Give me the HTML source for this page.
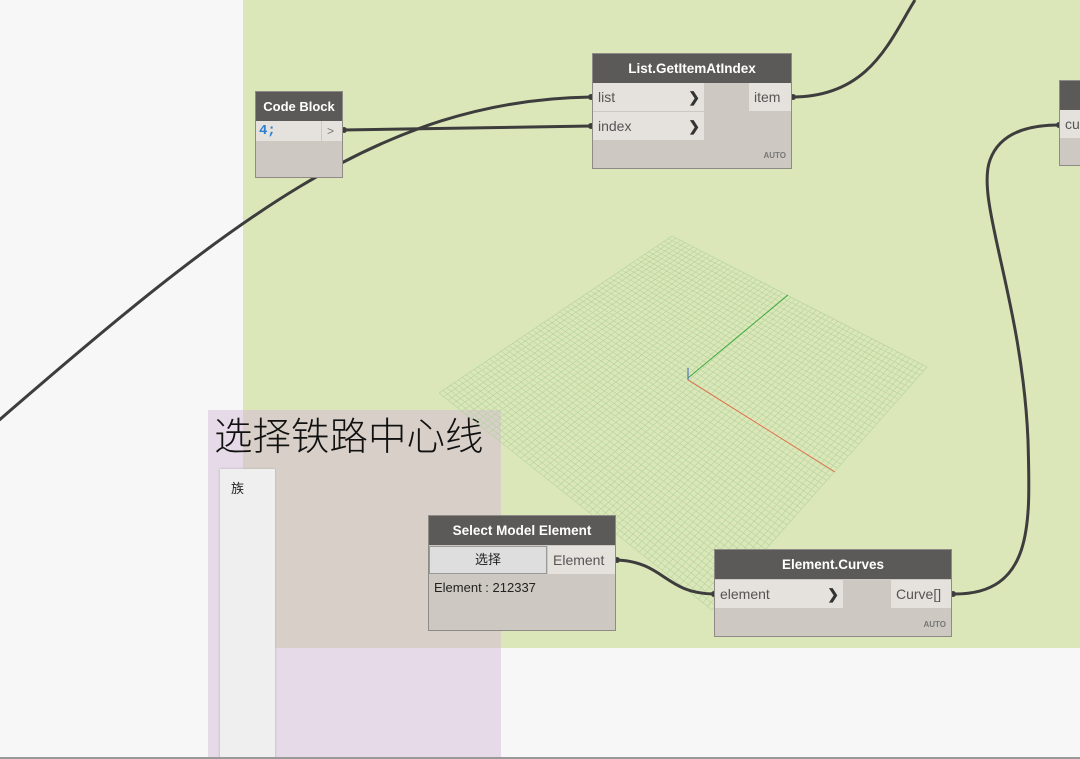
<!DOCTYPE html>
<html><head><meta charset="utf-8"><style>
*{margin:0;padding:0;box-sizing:border-box}
body{width:1080px;height:759px;overflow:hidden;background:#f7f7f7;position:relative;font-family:"Liberation Sans","Noto Sans CJK SC",sans-serif}
.abs{position:absolute}
.node{position:absolute;background:#cdc8c1;border:1px solid #8e8a85}
.hd{background:#5c5a58;color:#fff;font-weight:bold;font-size:13.5px;text-align:center;height:29px;line-height:29px;white-space:nowrap}
.in{position:absolute;background:#e5e1dc;color:#555;font-size:14px;line-height:28px;padding-left:5px}
.auto{position:absolute;right:5px;font-size:8px;font-weight:bold;color:#777}
.chev{position:absolute;right:4px;top:0;font-weight:bold;color:#333}
</style></head><body>
<div class="abs" style="left:243px;top:0;width:837px;height:648px;background:#dce7b9"></div>
<div class="abs" style="left:208px;top:410px;width:293px;height:349px;background:#e6d9e8"></div>
<div class="abs" style="left:243px;top:410px;width:258px;height:238px;background:#d8d0c8"></div>
<div class="abs" style="left:214px;top:406px;font-size:38.5px;color:#111;font-family:'Noto Sans CJK SC',sans-serif;font-weight:300">选择铁路中心线</div>
<div class="abs" style="left:220px;top:469px;width:55px;height:290px;background:#efefef;box-shadow:0 0 2px #aaa"></div>
<div class="abs" style="left:231px;top:478px;font-size:13px;color:#222">族</div>
<svg class="abs" style="left:0;top:0" width="1080" height="759" id="g">
<g id="grid" stroke="#b2d39c" stroke-width="0.6" fill="none"></g>
<line x1="688" y1="378" x2="788" y2="295" stroke="#3caa3c" stroke-width="1"/>
<line x1="688" y1="380" x2="835" y2="472" stroke="#e0704a" stroke-width="1"/>
<line x1="688" y1="368" x2="688" y2="380" stroke="#4060c0" stroke-width="1"/>
<g stroke="#3d3d3d" stroke-width="3" fill="none">
<path d="M-10,428 C 230,220 380,100 591,97"/>
<path d="M343,130 L591,126"/>
<path d="M792,97 C 870,97 890,40 915,0"/>
<path d="M617,560 C 665,562 665,594 715,594"/>
<path d="M955,594 C 1035,594 1030,520 1028,440 C 1022,300 975,200 990,160 C 1000,132 1030,125 1059,125"/>
</g>
<g fill="#3d3d3d">
<circle cx="344" cy="130" r="3"/><circle cx="591" cy="97" r="3"/><circle cx="591" cy="126" r="3"/>
<circle cx="793" cy="97" r="3"/><circle cx="617" cy="560" r="3"/><circle cx="714" cy="594" r="3"/>
<circle cx="953" cy="594" r="3"/><circle cx="1059" cy="125" r="3"/>
</g>
</svg>
<script>
(function(){var T=[672,236],R=[927,367],B=[712,610],L=[439,393],g=document.getElementById('grid'),n=60,s='';
function p(u,v){var a=[T[0]+(R[0]-T[0])*u,T[1]+(R[1]-T[1])*u],b=[L[0]+(B[0]-L[0])*u,L[1]+(B[1]-L[1])*u];return [a[0]+(b[0]-a[0])*v,a[1]+(b[1]-a[1])*v];}
for(var i=0;i<=n;i++){var t=i/n,a=p(t,0),b=p(t,1),c=p(0,t),d=p(1,t);s+='M'+a+'L'+b+'M'+c+'L'+d;}
var e=document.createElementNS('http://www.w3.org/2000/svg','path');e.setAttribute('d',s);g.appendChild(e);})();
</script>
<div class="node" style="left:255px;top:91px;width:88px;height:87px">
<div class="hd" style="font-size:13px">Code Block</div>
<div class="in" style="left:0;top:29px;width:65px;height:20px;line-height:20px;color:#2a7fd4;font-family:'Liberation Mono',monospace;font-weight:bold;padding-left:3px">4;</div>
<div class="in" style="left:66px;top:29px;width:20px;height:20px;line-height:20px;font-size:12px;color:#777">&gt;</div>
</div>
<div class="node" style="left:592px;top:53px;width:200px;height:116px">
<div class="hd">List.GetItemAtIndex</div>
<div class="in" style="left:0;top:29px;width:111px;height:28px">list<span class="chev">&#x276F;</span></div>
<div class="in" style="left:0;top:58px;width:111px;height:28px">index<span class="chev">&#x276F;</span></div>
<div class="in" style="left:156px;top:29px;width:42px;height:28px">item</div>
<div class="auto" style="top:97px">AUTO</div>
</div>
<div class="node" style="left:1059px;top:80px;width:40px;height:86px">
<div class="hd"></div>
<div class="in" style="left:0;top:29px;width:40px;height:28px">cu</div>
</div>
<div class="node" style="left:428px;top:515px;width:188px;height:116px">
<div class="hd">Select Model Element</div>
<div class="abs" style="left:0;top:30px;width:118px;height:28px;background:#dedede;border:1px solid #999;font-size:13px;text-align:center;line-height:26px;color:#222">选择</div>
<div class="in" style="left:119px;top:30px;width:67px;height:28px">Element</div>
<div class="abs" style="left:5px;top:64px;font-size:13px;color:#222">Element : 212337</div>
</div>
<div class="node" style="left:714px;top:549px;width:238px;height:88px">
<div class="hd">Element.Curves</div>
<div class="in" style="left:0;top:30px;width:128px;height:28px">element<span class="chev">&#x276F;</span></div>
<div class="in" style="left:176px;top:30px;width:60px;height:28px">Curve[]</div>
<div class="auto" style="top:70px">AUTO</div>
</div>
<div class="abs" style="left:0;top:757px;width:1080px;height:2px;background:#999"></div>
</body></html>
